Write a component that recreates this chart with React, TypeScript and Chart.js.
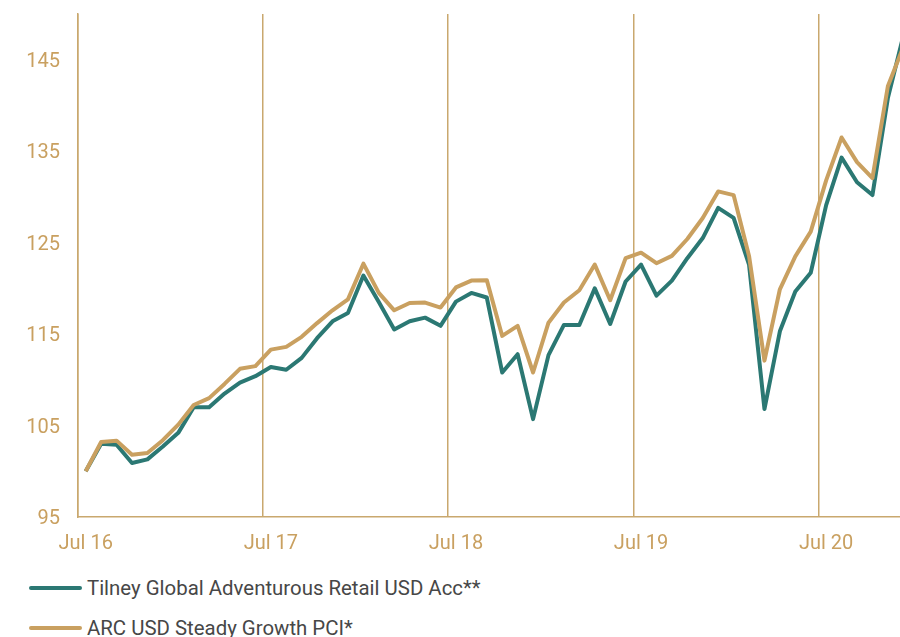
import React, { useEffect, useRef } from 'react';
import { Chart, registerables } from 'chart.js';

Chart.register(...registerables);

const categories: string[] = [
  'Jul 16', 'Aug 16', 'Sep 16', 'Oct 16', 'Nov 16', 'Dec 16',
  'Jan 17', 'Feb 17', 'Mar 17', 'Apr 17', 'May 17', 'Jun 17',
  'Jul 17', 'Aug 17', 'Sep 17', 'Oct 17', 'Nov 17', 'Dec 17',
  'Jan 18', 'Feb 18', 'Mar 18', 'Apr 18', 'May 18', 'Jun 18',
  'Jul 18', 'Aug 18', 'Sep 18', 'Oct 18', 'Nov 18', 'Dec 18',
  'Jan 19', 'Feb 19', 'Mar 19', 'Apr 19', 'May 19', 'Jun 19',
  'Jul 19', 'Aug 19', 'Sep 19', 'Oct 19', 'Nov 19', 'Dec 19',
  'Jan 20', 'Feb 20', 'Mar 20', 'Apr 20', 'May 20', 'Jun 20',
  'Jul 20', 'Aug 20', 'Sep 20', 'Oct 20', 'Nov 20', 'Dec 20',
];

const tilneyLabel = 'Tilney Global Adventurous Retail USD Acc**';
const arcLabel = 'ARC USD Steady Growth PCI*';

const tilneyValues: number[] = [
  100, 103.0, 102.9, 100.9, 101.3, 102.7,
  104.2, 107.0, 107.0, 108.5, 109.7, 110.4,
  111.4, 111.1, 112.4, 114.55, 116.4, 117.3,
  121.4, 118.5, 115.5, 116.4, 116.8, 115.9,
  118.55, 119.5, 119.0, 110.8, 112.8, 105.7,
  112.7, 116.0, 116.0, 120.0, 116.1, 120.75,
  122.6, 119.2, 120.85, 123.3, 125.5, 128.8,
  127.7, 122.6, 106.8, 115.3, 119.65, 121.7,
  129.1, 134.3, 131.6, 130.2, 140.8, 147.6,
];

const arcValues: number[] = [
  100, 103.2, 103.35, 101.8, 102.0, 103.4,
  105.1, 107.25, 108.0, 109.55, 111.2, 111.5,
  113.3, 113.6, 114.7, 116.2, 117.6, 118.8,
  122.7, 119.5, 117.6, 118.4, 118.45, 117.9,
  120.1, 120.85, 120.9, 114.8, 115.9, 110.8,
  116.25, 118.45, 119.8, 122.6, 118.7, 123.3,
  123.9, 122.75, 123.55, 125.4, 127.7, 130.6,
  130.2, 123.55, 112.1, 119.9, 123.5, 126.2,
  131.8, 136.5, 133.8, 132.05, 142.1, 146.4,
];

const xTickLabels: string[] = ['Jul 16', 'Jul 17', 'Jul 18', 'Jul 19', 'Jul 20'];
const yTickValues: number[] = [95, 105, 115, 125, 135, 145];

const TEAL = '#2b7873';
const GOLD = '#c9a060';
const GRID_GOLD = '#c9a86e';
const FONT = 'Roboto, "Noto Sans", sans-serif';

export default function App() {
  const canvasRef = useRef<HTMLCanvasElement | null>(null);

  useEffect(() => {
    if (!canvasRef.current) return;
    const chart = new Chart(canvasRef.current, {
      type: 'line',
      data: {
        labels: categories,
        datasets: [
          {
            label: tilneyLabel,
            data: tilneyValues,
            borderColor: TEAL,
            backgroundColor: TEAL,
            borderWidth: 4,
            pointRadius: 0,
            tension: 0,
            borderJoinStyle: 'round',
            order: 1,
          },
          {
            label: arcLabel,
            data: arcValues,
            borderColor: GOLD,
            backgroundColor: GOLD,
            borderWidth: 4,
            pointRadius: 0,
            tension: 0,
            borderJoinStyle: 'round',
            order: 0,
          },
        ],
      },
      options: {
        animation: false,
        responsive: false,
        devicePixelRatio: 1,
        layout: { padding: { left: 0, right: 0, top: 14, bottom: 0 } },
        plugins: {
          legend: { display: false },
          tooltip: { enabled: false },
        },
        scales: {
          x: {
            type: 'category',
            offset: true,
            grid: {
              display: true,
              offset: true,
              drawTicks: false,
              lineWidth: 1.5,
              color: (ctx: any) => (ctx.index % 12 === 0 ? GRID_GOLD : 'rgba(0,0,0,0)'),
            },
            border: { display: true, color: GRID_GOLD, width: 1.5 },
            ticks: {
              autoSkip: false,
              maxRotation: 0,
              minRotation: 0,
              padding: 15,
              color: GOLD,
              font: { family: FONT, size: 20 },
              callback: function (this: any, value: any) {
                const l = this.getLabelForValue(value);
                return xTickLabels.includes(l) ? l : '';
              },
            },
            afterFit: (scale: any) => {
              scale.height = 48;
              scale.paddingLeft = 0;
              scale.paddingRight = 0;
            },
          },
          y: {
            min: 95,
            max: 150,
            grid: { display: false, drawTicks: false },
            border: { display: true, color: GRID_GOLD, width: 1.5 },
            ticks: {
              padding: 18,
              labelOffset: 2,
              color: GOLD,
              font: { family: FONT, size: 20 },
            },
            afterBuildTicks: (scale: any) => {
              scale.ticks = yTickValues.map((v) => ({ value: v }));
            },
            afterFit: (scale: any) => {
              scale.width = 78;
              scale.paddingTop = 0;
              scale.paddingBottom = 0;
            },
          },
        },
      },
    } as any);
    return () => chart.destroy();
  }, []);

  const legendItems = [
    { label: tilneyLabel, color: TEAL, center: 587.5 },
    { label: arcLabel, color: GOLD, center: 627.5 },
  ];

  return (
    <div
      style={{
        position: 'fixed',
        left: 0,
        top: 0,
        width: 900,
        height: 637,
        overflow: 'hidden',
        background: '#ffffff',
      }}
    >
      <canvas
        ref={canvasRef}
        width={911}
        height={565}
        style={{ position: 'absolute', left: 0, top: 0, width: 911, height: 565 }}
      />
      {legendItems.map((it) => (
        <div key={it.label}>
          <div
            style={{
              position: 'absolute',
              left: 29,
              top: it.center - 2,
              width: 53,
              height: 4,
              borderRadius: 2,
              background: it.color,
            }}
          />
          <div
            style={{
              position: 'absolute',
              left: 87,
              top: it.center - 12,
              height: 24,
              lineHeight: '24px',
              fontFamily: FONT,
              fontSize: 20.4,
              color: '#474747',
              whiteSpace: 'nowrap',
            }}
          >
            {it.label}
          </div>
        </div>
      ))}
    </div>
  );
}
